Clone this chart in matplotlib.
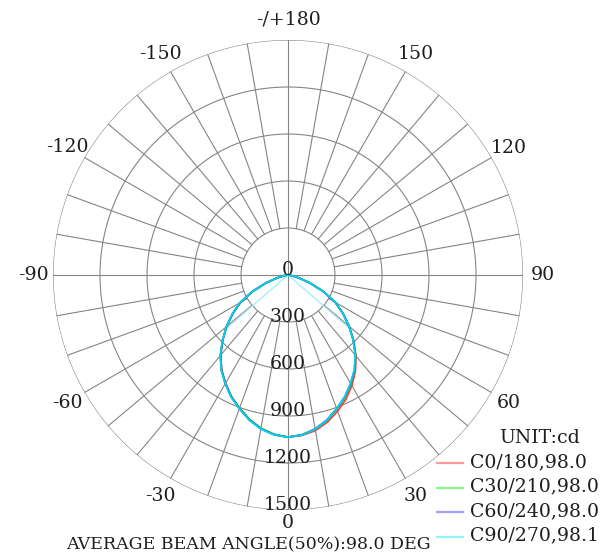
import numpy as np
import matplotlib.pyplot as plt
from matplotlib.lines import Line2D

# gamma angles (deg) and intensity (cd) for each C-plane half
gamma = [0, 5, 10, 15, 20, 25, 30, 35, 40, 45, 50, 55, 60, 65, 70, 75, 80, 85, 90]
c0 = [1035, 1028, 1008, 972, 925, 875, 815, 750, 675, 592, 510, 430, 348, 250, 150, 70, 25, 8, 0]
c180 = [1035, 1022, 995, 955, 905, 855, 797, 738, 668, 590, 512, 432, 352, 252, 152, 72, 26, 8, 0]
c30 = [1035, 1024, 1000, 962, 912, 862, 803, 742, 672, 592, 510, 430, 350, 250, 150, 70, 25, 8, 0]
c210 = [1035, 1020, 993, 952, 903, 856, 800, 742, 672, 592, 512, 432, 350, 250, 150, 70, 25, 8, 0]
c60 = [1035, 1024, 998, 958, 908, 858, 800, 740, 670, 590, 508, 428, 348, 248, 148, 68, 24, 8, 0]
c240 = [1035, 1023, 997, 957, 907, 858, 800, 740, 670, 590, 512, 432, 352, 252, 152, 72, 26, 8, 0]
c90 = [1035, 1025, 1000, 960, 908, 858, 798, 738, 668, 588, 508, 428, 348, 248, 148, 68, 24, 8, 0]
c270 = [1035, 1024, 998, 958, 908, 860, 802, 742, 672, 592, 512, 434, 354, 254, 154, 74, 26, 8, 0]

rings = [300, 600, 900, 1200, 1500]
angle_ticks = [0, 30, 60, 90, 120, 150, 180, -150, -120, -90, -60, -30]
legend_labels = ['C0/180,98.0', 'C30/210,98.0', 'C60/240,98.0', 'C90/270,98.1']
beam_angle = 98.1

plt.rcParams['font.family'] = ['DejaVu Serif']
tc = '#1e1e1e'

W, H = 608, 556
fig = plt.figure(figsize=(W / 100, H / 100), dpi=100)
ax = fig.add_axes([53 / W, 46 / H, 470 / W, 470 / H], projection='polar')
ax.set_theta_zero_location('S')
ax.set_theta_direction(1)
ax.set_ylim(0, rings[-1])
ax.grid(False)
ax.set_xticks([])
ax.set_yticks([])
ax.spines['polar'].set_visible(False)

gc = '#858585'
circ = np.linspace(0, 2 * np.pi, 721)
for r in rings:
    ax.plot(circ, np.full_like(circ, r), color=gc, lw=0.8, zorder=1)
for d in range(0, 360, 10):
    r0 = 0 if d % 90 == 0 else rings[0]
    ax.plot([np.radians(d)] * 2, [r0, rings[-1]], color=gc, lw=0.8, zorder=1)

# curves: left half (negative gamma) + right half
pairs = [(c0, c180, '#ff3b3b'), (c30, c210, '#2ed12e'),
         (c60, c240, '#3a3aff'), (c90, c270, '#00d5e5')]
g = np.radians(gamma)
for right, left, col in pairs:
    th = np.concatenate([-g[::-1], g[1:]])
    rr = np.concatenate([left[::-1], right[1:]])
    ax.plot(th, rr, color=col, lw=1.3, zorder=3)

# 50% beam lines (C90 plane)
half = np.radians(beam_angle / 2)
ax.plot([-half, 0, half], [c270[0] / 2, 0, c90[0] / 2], color='#9feef5', lw=0.9, zorder=2)

# angle labels round the outside
for a in angle_ticks:
    txt = '-/+180' if a == 180 else str(a)
    lab_r = rings[-1] * (248 if a == 0 else 255) / 235
    ax.text(np.radians(a), lab_r, txt, ha='center', va='center', fontsize=13.6,
            color=tc, clip_on=False)

# ring labels along the 0 axis
ax.text(0, 0, '0', ha='center', va='baseline', fontsize=13.6, color=tc, zorder=5)
for r in rings:
    ax.text(0, r, str(r), ha='center', va='baseline', fontsize=13.6, color=tc,
            zorder=5, clip_on=False)

fig.text(540 / W, 1 - 438 / H, 'UNIT:cd', ha='center', va='center', fontsize=13.6, color=tc)
leg_cols = ['#ff9a9a', '#8cf58c', '#a0a0ff', '#8ef5f8']
for i, (lab, col) in enumerate(zip(legend_labels, leg_cols)):
    y = 463 + i * 24.5
    fig.add_artist(Line2D([437 / W, 463 / W], [1 - y / H] * 2, color=col, lw=1.6,
                          transform=fig.transFigure))
    fig.text(470 / W, 1 - (y - 1) / H, lab, ha='left', va='center', fontsize=13.6, color=tc)

fig.text(248 / W, 1 - 545 / H, 'AVERAGE BEAM ANGLE(50%):98.0 DEG', ha='center',
         va='center', fontsize=12.5, color=tc)

fig.savefig('out.png', dpi=100)
